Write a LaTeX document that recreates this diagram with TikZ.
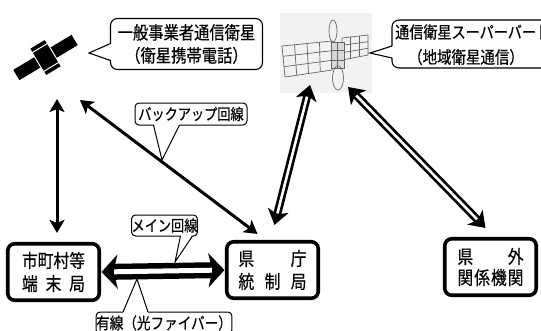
\documentclass[tikz,border=0pt]{standalone}
\usepackage{fontspec}
\newfontfamily\jp[FakeStretch=0.85,FakeBold=0.5]{Noto Sans CJK JP}
\usetikzlibrary{arrows.meta,calc}
\begin{document}
\begin{tikzpicture}[x=1pt,y=-1pt,
  station/.style={draw, line width=3.6pt, rounded corners=7pt, inner sep=0pt, fill=white,
    minimum width=91.5pt, minimum height=56.5pt, align=center,
    font=\jp\fontsize{18.5}{23}\selectfont},
  bubble/.style={draw, line width=1.1pt, rounded corners=7pt, fill=white, inner sep=0pt,
    align=center, font=\jp\fontsize{18}{23}\selectfont},
  tag/.style={draw, line width=1pt, rounded corners=4pt, fill=white, inner sep=0pt,
    font=\jp\fontsize{15.5}{15.5}\selectfont},
  thinarrow/.style={line width=3pt,
    {Stealth[length=13pt,width=15pt,inset=3pt]}-{Stealth[length=13pt,width=15pt,inset=3pt]}},
  pipe/.style={line width=8pt,
    {Stealth[length=15pt,width=21pt,inset=4pt]}-{Stealth[length=15pt,width=21pt,inset=4pt]},
    postaction={draw=white, line width=2.6pt, arrows=-, shorten <=12pt, shorten >=12pt}},
  bigpipe/.style={line width=16pt,
    {Stealth[length=16pt,width=34pt,inset=4pt]}-{Stealth[length=16pt,width=34pt,inset=4pt]},
    postaction={draw=white, line width=5pt, arrows=-, shorten <=13pt, shorten >=13pt}},
  sketch/.style={draw=black!60, line width=0.7pt},
  pointer/.style={line width=1pt, line join=miter}]

\useasboundingbox (0,0) rectangle (541,330);
\fill[white] (0,0) rectangle (541,330);
\clip (0,0) rectangle (541,330);

% ---- general-purpose satellite (solid pictogram) ----
\begin{scope}[shift={(45.5,57.5)}, rotate=31]
  \fill (-34,-6) rectangle (34,6);
  \filldraw[draw=white, line width=1pt] (-9,-16) rectangle (9,16);
  \draw[white, line width=1pt] (-9,-11) -- (9,-11) (-9,11) -- (9,11);
\end{scope}
\coordinate (satA-down) at (57,99);
\coordinate (satA-side) at (80,100);

% ---- Superbird satellite (line sketch) ----
\fill[black!5] (280,13) rectangle (372,93);
\draw[sketch] (282,46) -- (332,41) -- (332,70) -- (285,77) -- cycle;
\draw[sketch] (294.5,44.75) -- (296.75,75.25) (307,43.5) -- (308.5,73.5) (319.5,42.25) -- (320.25,71.75);
\draw[sketch] (283,56.3) -- (332,50.7) (284,66.7) -- (332,60.3);
\draw[sketch] (342,38) -- (368,35) -- (368,55) -- (342,60) -- cycle;
\draw[sketch] (350.7,37) -- (350.7,58.3) (359.3,36) -- (359.3,56.7);
\draw[sketch] (342,45.3) -- (368,41.7) (342,52.7) -- (368,48.3);
\draw[sketch, fill=black!15] (331,42) rectangle (344,68);
\draw[sketch] (331,50) -- (344,50) (331,60) -- (344,60) (337,42) -- (337,68);
\draw[sketch] (333,31) ellipse [x radius=4, y radius=11];
\draw[sketch] (338,78) ellipse [x radius=5.5, y radius=12];
\coordinate (satB-a) at (310,85);
\coordinate (satB-b) at (348,87);

% ---- ground stations ----
\node[station] (muni) at (53.5,272)
  {\makebox[63pt][s]{市\hfill 町\hfill 村\hfill 等}\\
   \makebox[63pt][s]{端\hfill 末\hfill 局}};
\node[station] (pref) at (272.5,270)
  {\makebox[68pt][s]{県\hfill 庁}\\
   \makebox[68pt][s]{統\hfill 制\hfill 局}};
\node[station, font=\jp\fontsize{18.5}{21}\selectfont] (ext) at (490.5,267)
  {\makebox[66pt][s]{県\hfill 外}\\
   \makebox[66pt][s]{関\hfill 係\hfill 機\hfill 関}};

% ---- links ----
\draw[thinarrow, shorten >=9pt] (satA-down) -- (satA-down |- muni.north);
\draw[thinarrow] (satA-side) -- ($(pref.north)+(-15,-6)$);
\draw[pipe] (satB-a) -- ($(pref.north)+(2,-15)$);
\draw[pipe] (satB-b) -- ($(ext.north)+(-5,-9)$);
\draw[bigpipe, shorten <=0.5pt, shorten >=0.5pt] (muni.east) -- (pref.west);

% ---- speech bubbles ----
\node[bubble, minimum width=152pt, minimum height=51pt] (callA) at (186.5,44)
  {一般事業者通信衛星\\（衛星携帯電話）};
\fill[white] ($(callA.west)+(2,-0.5)$) -- (89,53) -- ($(callA.west)+(2,16.5)$) -- cycle;
\draw[pointer, line width=1.1pt] ($(callA.west)+(0.6,-0.5)$) -- (89,53) -- ($(callA.west)+(0.6,16.5)$);

\node[bubble, minimum width=178pt, minimum height=48pt] (callB) at (481,44) {};
\node[anchor=west, inner sep=0pt, font=\jp\fontsize{16.6}{17}\selectfont] (callB-l1) at (395,32)
  {通信衛星スーパーバード};
\node[inner sep=0pt, font=\jp\fontsize{17}{17}\selectfont] (callB-l2) at (466,57)
  {（地域衛星通信）};
\fill[white] ($(callB.west)+(2,2)$) -- (370,53) -- ($(callB.west)+(2,14)$) -- cycle;
\draw[pointer, line width=1.1pt] ($(callB.west)+(0.6,2)$) -- (370,53) -- ($(callB.west)+(0.6,14)$);

% ---- line labels ----
\node[tag, minimum width=112pt, minimum height=22pt] (backup) at (191,114) {バックアップ回線};
\fill[white] (153.5,124) -- (162,160) -- (179.5,124) -- cycle;
\draw[pointer] (153.5,125) -- (162,160) -- (179.5,125);

\node[tag, minimum width=65pt, minimum height=21pt] (mainl) at (164.5,225.5) {メイン回線};
\fill[white] (180.5,235) -- (175,262) -- (192.5,235) -- cycle;
\draw[pointer] (180.5,236) -- (175,262) -- (192.5,236);

\node[tag, minimum width=128pt, minimum height=22pt, font=\jp\fontsize{16}{16}\selectfont] (fiber) at (164,323) {有線（光ファイバー）};
\fill[white] (123,313) -- (137,279) -- (148,313) -- cycle;
\draw[pointer] (123,312) -- (137,279) -- (148,312);

\end{tikzpicture}
\end{document}
